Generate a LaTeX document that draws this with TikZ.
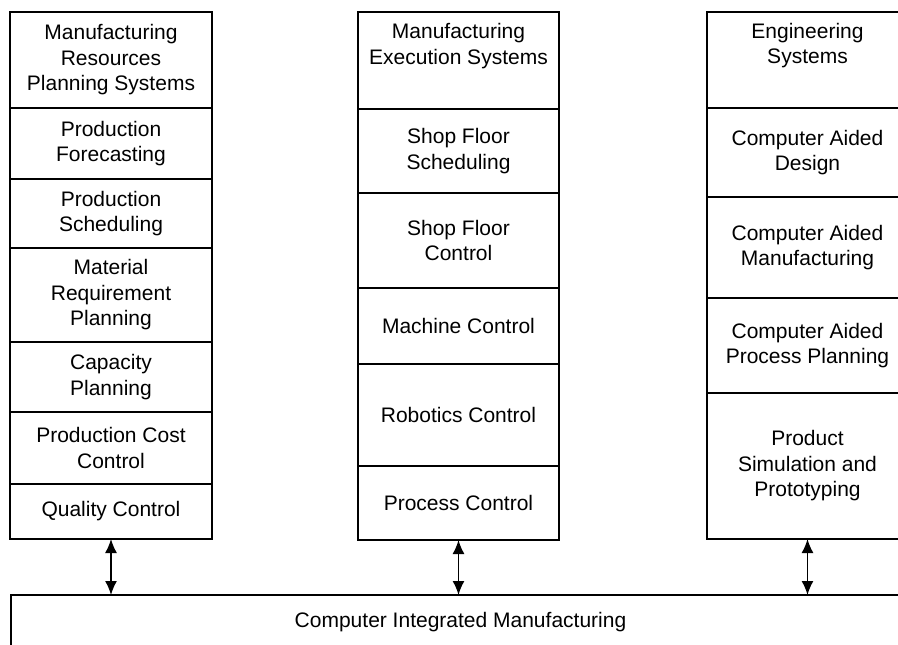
\documentclass[tikz,border=0pt]{standalone}
\usepackage{fontspec}
\setmainfont{Liberation Sans}
\usetikzlibrary{arrows.meta}
\tikzset{
  cell/.style={draw, line width=1.7pt, inner sep=0pt, outer sep=0pt, align=center,
    font=\fontsize{21}{25.5}\selectfont},
  link/.style={line width=1.5pt, {Latex[length=14pt,width=12pt]}-{Latex[length=14pt,width=12pt]}}
}
\newcommand{\mkcell}[6]{% name, cx, width, top, bottom, text
  \node[cell, minimum width=#3, minimum height={#5-#4}] (#1) at (#2,{(#4+#5)/2}) {#6};}
\begin{document}
\begin{tikzpicture}[x=1pt,y=-1pt]
\useasboundingbox (0,0) rectangle (898,645);
\clip (0,0) rectangle (898,645);
% left column
\mkcell{lh}{111}{202}{12}{108}{Manufacturing\\Resources\\Planning Systems}
\mkcell{lpf}{111}{202}{108}{179}{Production\\Forecasting}
\mkcell{lps}{111}{202}{179}{248}{Production\\Scheduling}
\mkcell{lmr}{111}{202}{248}{342}{Material\\Requirement\\Planning}
\mkcell{lcp}{111}{202}{342}{412}{Capacity\\Planning}
\mkcell{lpc}{111}{202}{412}{484}{Production Cost\\Control}
\mkcell{lqc}{111}{202}{484}{539}{Quality Control}
% middle column
\mkcell{mh}{458.5}{201}{12}{109}{Manufacturing\\Execution Systems\\ \strut}
\mkcell{mss}{458.5}{201}{109}{193}{Shop Floor\\Scheduling}
\mkcell{msc}{458.5}{201}{193}{288}{Shop Floor\\Control}
\mkcell{mmc}{458.5}{201}{288}{364}{Machine Control}
\mkcell{mrc}{458.5}{201}{364}{466}{Robotics Control}
\mkcell{mpc}{458.5}{201}{466}{540}{Process Control}
% right column
\mkcell{rh}{807.5}{201}{12}{108}{Engineering\\Systems\\ \strut}
\mkcell{rcad}{807.5}{201}{108}{197}{Computer Aided\\Design}
\mkcell{rcam}{807.5}{201}{197}{298}{Computer Aided\\Manufacturing}
\mkcell{rcapp}{807.5}{201}{298}{393}{Computer Aided\\Process Planning}
\mkcell{rps}{807.5}{201}{393}{539}{Product\\Simulation and\\Prototyping}
% bottom
\mkcell{cim}{460.5}{899}{595}{650}{Computer Integrated Manufacturing}
% connectors
\draw[link] (lqc.south) -- (lqc.south |- cim.north);
\draw[link] (mpc.south) -- (mpc.south |- cim.north);
\draw[link] (rps.south) -- (rps.south |- cim.north);
\end{tikzpicture}
\end{document}
